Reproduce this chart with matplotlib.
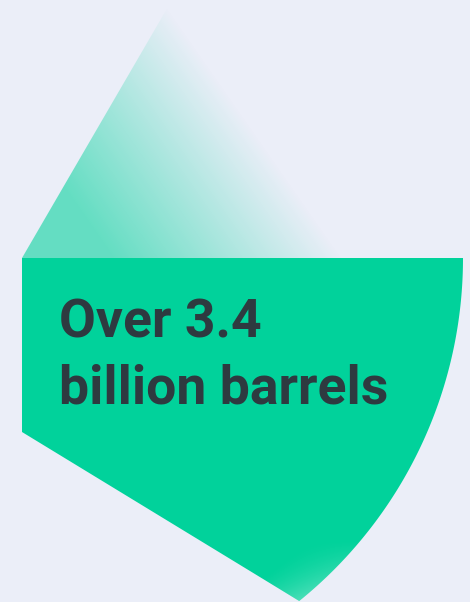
import numpy as np
import matplotlib.pyplot as plt
from matplotlib.patches import Polygon
from matplotlib.colors import to_rgb

# Datos del gráfico
value_label = "Over 3.4"
unit_label = "billion barrels"

bg = "#EBEEF8"
green = "#01D29B"
text_color = "#2E3A40"

W, H = 470, 602
fig = plt.figure(figsize=(W / 100, H / 100), dpi=100, facecolor=bg)
ax = fig.add_axes([0, 0, 1, 1])
ax.set_xlim(0, W)
ax.set_ylim(H, 0)
ax.axis("off")
ax.set_facecolor(bg)

# Centro y radio del sector (coordenadas en píxeles)
cx, cy, r = 22, 258, 441

# Parte inferior: sector sólido
theta = np.linspace(0, np.arcsin((601 - cy) / r), 200)
arc = np.column_stack([cx + r * np.cos(theta), cy + r * np.sin(theta)])
lower = np.vstack([[cx, cy], arc, [cx, 432]])
ax.add_patch(Polygon(lower, closed=True, facecolor=green, edgecolor="none", zorder=2))

# Brillo suave cerca de la punta inferior
xx, yy = np.meshgrid(np.arange(W) + 0.5, np.arange(H) + 0.5)
dist = np.hypot(xx - cx, yy - cy)
glow = np.clip((dist - 400) / 41, 0, 1) * np.clip((yy - 540) / 62, 0, 1) * 0.3
img2 = np.zeros((H, W, 4))
img2[..., :3] = 1.0
img2[..., 3] = glow
im2 = ax.imshow(img2, extent=(0, W, H, 0), zorder=3, interpolation="bilinear")
im2.set_clip_path(Polygon(lower, closed=True, transform=ax.transData))

# Parte superior: degradado que se desvanece
upper = np.array([[cx, cy], [172, 0], [418, 0], [463, cy]])
t = ((xx - cx) * 248 - (yy - cy) * 173) / 302.4
alpha = 0.58 * np.clip((263 - t) / (263 - 75), 0, 1)
img = np.zeros((H, W, 4))
img[..., :3] = to_rgb(green)
img[..., 3] = alpha
im = ax.imshow(img, extent=(0, W, H, 0), zorder=1, interpolation="bilinear")
im.set_clip_path(Polygon(upper, closed=True, transform=ax.transData))

ax.set_xlim(0, W)
ax.set_ylim(H, 0)

# Texto
for label, yb in [(value_label, 337), (unit_label, 403)]:
    ax.text(59, yb, label, fontsize=38.5, fontweight="bold", family="Roboto",
            color=text_color, va="baseline", ha="left", zorder=5)

fig.savefig("out.png", dpi=100, facecolor=bg)
